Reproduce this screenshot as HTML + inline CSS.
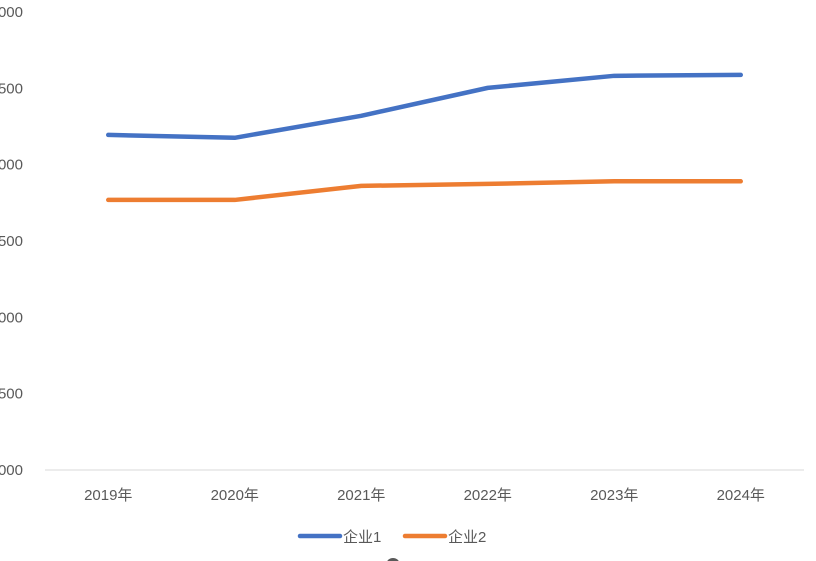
<!DOCTYPE html>
<html><head><meta charset="utf-8"><style>
body{margin:0;background:#fff;width:816px;height:561px;overflow:hidden}
svg{display:block}
text{font-family:"Liberation Sans","Noto Sans CJK SC",sans-serif;fill:#595959;font-size:15px}
</style></head><body>
<svg id="c" width="816" height="561"></svg>
<script>
const categories=["2019年","2020年","2021年","2022年","2023年","2024年"];
const series1=[5195,5176,5320,5503,5582,5588];
const series2=[4769,4769,4861,4874,4891,4891];
const yTicks=[3000,3500,4000,4500,5000,5500,6000];
const yTickLabels=["3000","3500","4000","4500","5000","5500","6000"];
const plotL=45,plotR=804,plotT=12,plotB=470,yMin=3000,yMax=6000;
const NS="http://www.w3.org/2000/svg",svgEl=document.getElementById('c');
function xs(i){return plotL+(plotR-plotL)/categories.length*(i+0.5);}
function ys(v){return plotB-(v-yMin)/(yMax-yMin)*(plotB-plotT);}
function mk(t,a){const e=document.createElementNS(NS,t);for(const k in a)e.setAttribute(k,a[k]);svgEl.appendChild(e);return e;}
yTicks.forEach((v,i)=>{const t=mk('text',{x:23,y:ys(v)+5,'text-anchor':'end'});


t.textContent=yTickLabels[i];});
const ax=mk('line',{x1:plotL,x2:plotR,y1:plotB,y2:plotB,stroke:'#d9d9d9','stroke-width':1});


categories.forEach((c,i)=>{const t=mk('text',{x:xs(i),y:500,'text-anchor':'middle'});


t.textContent=c;});
[[series1,'#4472c4','series-1-line'],[series2,'#ed7d31','series-2-line']].forEach(([d,col,n])=>{
const p=mk('polyline',{points:d.map((v,i)=>xs(i)+','+ys(v)).join(' '),fill:'none',stroke:col,'stroke-width':4.5,'stroke-linecap':'round','stroke-linejoin':'round'});

});
[[300,'#4472c4','企业1','legend-entry-1'],[405,'#ed7d31','企业2','legend-entry-2']].forEach(([lx,col,l,n])=>{
const g=mk('g',{});


const ln=document.createElementNS(NS,'line');
[['x1',lx],['x2',lx+40],['y1',536],['y2',536],['stroke',col],['stroke-width',4.5],['stroke-linecap','round']].forEach(([k,v])=>ln.setAttribute(k,v));
g.appendChild(ln);
const t=document.createElementNS(NS,'text');t.setAttribute('x',lx+43);t.setAttribute('y',542);t.textContent=l;g.appendChild(t);});
const dot=mk('circle',{cx:393,cy:565,r:7,fill:'#595959'});


</script>
</body></html>
